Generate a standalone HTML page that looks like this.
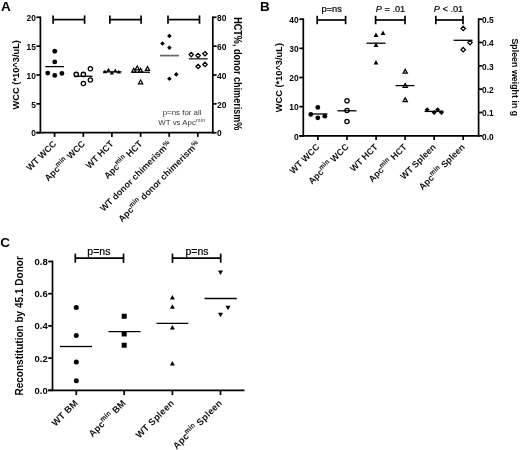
<!DOCTYPE html>
<html><head><meta charset="utf-8"><title>Figure</title>
<style>
html,body{margin:0;padding:0;background:#fff;}
body{width:520px;height:450px;overflow:hidden;}
svg{display:block;font-family:"Liberation Sans",sans-serif;}
</style></head><body>
<svg width="520" height="450" viewBox="0 0 520 450">
<rect width="520" height="450" fill="#fff"/>
<text x="1.00" y="10.60" font-size="13.5" font-weight="bold" font-style="normal" text-anchor="start" fill="#000">A</text>
<line x1="40.40" y1="16.45" x2="40.40" y2="133.55" stroke="#000" stroke-width="1.7" stroke-linecap="butt"/>
<line x1="36.40" y1="132.70" x2="213.65" y2="132.70" stroke="#000" stroke-width="1.7" stroke-linecap="butt"/>
<line x1="212.80" y1="16.45" x2="212.80" y2="133.55" stroke="#000" stroke-width="1.7" stroke-linecap="butt"/>
<line x1="36.40" y1="132.70" x2="40.40" y2="132.70" stroke="#000" stroke-width="1.7" stroke-linecap="butt"/>
<text x="35.80" y="136.40" font-size="8.4" font-weight="bold" font-style="normal" text-anchor="end" fill="#000">0</text>
<line x1="36.40" y1="103.85" x2="40.40" y2="103.85" stroke="#000" stroke-width="1.7" stroke-linecap="butt"/>
<text x="35.80" y="107.55" font-size="8.4" font-weight="bold" font-style="normal" text-anchor="end" fill="#000">5</text>
<line x1="36.40" y1="75.00" x2="40.40" y2="75.00" stroke="#000" stroke-width="1.7" stroke-linecap="butt"/>
<text x="35.80" y="78.70" font-size="8.4" font-weight="bold" font-style="normal" text-anchor="end" fill="#000">10</text>
<line x1="36.40" y1="46.15" x2="40.40" y2="46.15" stroke="#000" stroke-width="1.7" stroke-linecap="butt"/>
<text x="35.80" y="49.85" font-size="8.4" font-weight="bold" font-style="normal" text-anchor="end" fill="#000">15</text>
<line x1="36.40" y1="17.30" x2="40.40" y2="17.30" stroke="#000" stroke-width="1.7" stroke-linecap="butt"/>
<text x="35.80" y="21.00" font-size="8.4" font-weight="bold" font-style="normal" text-anchor="end" fill="#000">20</text>
<line x1="212.80" y1="132.70" x2="216.60" y2="132.70" stroke="#000" stroke-width="1.7" stroke-linecap="butt"/>
<text x="217.00" y="136.40" font-size="8.4" font-weight="bold" font-style="normal" text-anchor="start" fill="#000">0</text>
<line x1="212.80" y1="103.85" x2="216.60" y2="103.85" stroke="#000" stroke-width="1.7" stroke-linecap="butt"/>
<text x="217.00" y="107.55" font-size="8.4" font-weight="bold" font-style="normal" text-anchor="start" fill="#000">20</text>
<line x1="212.80" y1="75.00" x2="216.60" y2="75.00" stroke="#000" stroke-width="1.7" stroke-linecap="butt"/>
<text x="217.00" y="78.70" font-size="8.4" font-weight="bold" font-style="normal" text-anchor="start" fill="#000">40</text>
<line x1="212.80" y1="46.15" x2="216.60" y2="46.15" stroke="#000" stroke-width="1.7" stroke-linecap="butt"/>
<text x="217.00" y="49.85" font-size="8.4" font-weight="bold" font-style="normal" text-anchor="start" fill="#000">60</text>
<line x1="212.80" y1="17.30" x2="216.60" y2="17.30" stroke="#000" stroke-width="1.7" stroke-linecap="butt"/>
<text x="217.00" y="21.00" font-size="8.4" font-weight="bold" font-style="normal" text-anchor="start" fill="#000">80</text>
<line x1="54.60" y1="132.70" x2="54.60" y2="136.90" stroke="#000" stroke-width="1.7" stroke-linecap="butt"/>
<text x="56.90" y="144.40" font-size="9.0" font-weight="bold" font-style="normal" text-anchor="end" fill="#111" transform="rotate(-45 56.90 144.40)">WT WCC</text>
<line x1="83.30" y1="132.70" x2="83.30" y2="136.90" stroke="#000" stroke-width="1.7" stroke-linecap="butt"/>
<text x="85.60" y="144.40" font-size="9.0" font-weight="bold" font-style="normal" text-anchor="end" fill="#111" transform="rotate(-45 85.60 144.40)">Apc<tspan font-size="73%" font-weight="normal" stroke="#111" stroke-width="0.25" letter-spacing="0.4" dy="-3.6">min</tspan><tspan dy="3.6"> WCC</tspan></text>
<line x1="111.90" y1="132.70" x2="111.90" y2="136.90" stroke="#000" stroke-width="1.7" stroke-linecap="butt"/>
<text x="114.20" y="144.40" font-size="9.0" font-weight="bold" font-style="normal" text-anchor="end" fill="#111" transform="rotate(-45 114.20 144.40)">WT HCT</text>
<line x1="140.60" y1="132.70" x2="140.60" y2="136.90" stroke="#000" stroke-width="1.7" stroke-linecap="butt"/>
<text x="142.90" y="144.40" font-size="9.0" font-weight="bold" font-style="normal" text-anchor="end" fill="#111" transform="rotate(-45 142.90 144.40)">Apc<tspan font-size="73%" font-weight="normal" stroke="#111" stroke-width="0.25" letter-spacing="0.4" dy="-3.6">min</tspan><tspan dy="3.6"> HCT</tspan></text>
<line x1="169.20" y1="132.70" x2="169.20" y2="136.90" stroke="#000" stroke-width="1.7" stroke-linecap="butt"/>
<text x="171.50" y="144.40" font-size="9.0" font-weight="bold" font-style="normal" text-anchor="end" fill="#111" transform="rotate(-45 171.50 144.40)">WT donor chimerism<tspan font-size="78%" dy="-2.3">%</tspan></text>
<line x1="197.80" y1="132.70" x2="197.80" y2="136.90" stroke="#000" stroke-width="1.7" stroke-linecap="butt"/>
<text x="200.10" y="144.40" font-size="9.0" font-weight="bold" font-style="normal" text-anchor="end" fill="#111" transform="rotate(-45 200.10 144.40)">Apc<tspan font-size="73%" font-weight="normal" stroke="#111" stroke-width="0.25" letter-spacing="0.4" dy="-3.6">min</tspan><tspan dy="3.6"> donor chimerism</tspan><tspan font-size="78%" dy="-2.3">%</tspan></text>
<text x="19.40" y="109.40" font-size="9.3" font-weight="bold" font-style="normal" text-anchor="start" fill="#000" transform="rotate(-90 19.40 109.40)" textLength="69.3" lengthAdjust="spacingAndGlyphs">WCC (*10^3/uL)</text>
<text x="234.40" y="17.30" font-size="10" font-weight="bold" font-style="normal" text-anchor="start" fill="#000" transform="rotate(90 234.40 17.30)" textLength="113" lengthAdjust="spacingAndGlyphs">HCT%, donor chimerism%</text>
<line x1="53.10" y1="19.60" x2="84.60" y2="19.60" stroke="#000" stroke-width="1.7" stroke-linecap="butt"/>
<line x1="53.10" y1="15.40" x2="53.10" y2="23.80" stroke="#000" stroke-width="1.7" stroke-linecap="butt"/>
<line x1="84.60" y1="15.40" x2="84.60" y2="23.80" stroke="#000" stroke-width="1.7" stroke-linecap="butt"/>
<line x1="109.90" y1="19.60" x2="141.10" y2="19.60" stroke="#000" stroke-width="1.7" stroke-linecap="butt"/>
<line x1="109.90" y1="15.40" x2="109.90" y2="23.80" stroke="#000" stroke-width="1.7" stroke-linecap="butt"/>
<line x1="141.10" y1="15.40" x2="141.10" y2="23.80" stroke="#000" stroke-width="1.7" stroke-linecap="butt"/>
<line x1="168.00" y1="19.60" x2="199.50" y2="19.60" stroke="#000" stroke-width="1.7" stroke-linecap="butt"/>
<line x1="168.00" y1="15.40" x2="168.00" y2="23.80" stroke="#000" stroke-width="1.7" stroke-linecap="butt"/>
<line x1="199.50" y1="15.40" x2="199.50" y2="23.80" stroke="#000" stroke-width="1.7" stroke-linecap="butt"/>
<circle cx="54.75" cy="51.25" r="2.4" fill="#000"/>
<circle cx="54.75" cy="61.90" r="2.4" fill="#000"/>
<circle cx="47.75" cy="73.10" r="2.4" fill="#000"/>
<circle cx="54.75" cy="75.40" r="2.4" fill="#000"/>
<circle cx="61.90" cy="73.40" r="2.4" fill="#000"/>
<line x1="45.25" y1="66.60" x2="64.00" y2="66.60" stroke="#000" stroke-width="1.3" stroke-linecap="butt"/>
<line x1="74.00" y1="76.25" x2="92.50" y2="76.25" stroke="#000" stroke-width="1.3" stroke-linecap="butt"/>
<circle cx="76.25" cy="74.40" r="2.15" fill="none" stroke="#000" stroke-width="1.3"/>
<circle cx="83.40" cy="74.40" r="2.15" fill="none" stroke="#000" stroke-width="1.3"/>
<circle cx="90.40" cy="68.75" r="2.15" fill="none" stroke="#000" stroke-width="1.3"/>
<circle cx="90.40" cy="80.00" r="2.15" fill="none" stroke="#000" stroke-width="1.3"/>
<circle cx="83.40" cy="83.50" r="2.15" fill="none" stroke="#000" stroke-width="1.3"/>
<line x1="103.00" y1="71.90" x2="121.50" y2="71.90" stroke="#000" stroke-width="1.3" stroke-linecap="butt"/>
<polygon points="105.00,69.50 102.90,73.28 107.10,73.28" fill="#000"/>
<polygon points="108.50,67.65 106.40,71.43 110.60,71.43" fill="#000"/>
<polygon points="111.90,70.65 109.80,74.43 114.00,74.43" fill="#000"/>
<polygon points="115.25,68.50 113.15,72.28 117.35,72.28" fill="#000"/>
<polygon points="118.75,69.80 116.65,73.58 120.85,73.58" fill="#000"/>
<line x1="131.90" y1="72.25" x2="150.00" y2="72.25" stroke="#000" stroke-width="1.3" stroke-linecap="butt"/>
<polygon points="133.75,68.30 131.65,72.08 135.85,72.08" fill="none" stroke="#000" stroke-width="1.25" stroke-linejoin="miter"/>
<polygon points="137.25,66.00 135.15,69.78 139.35,69.78" fill="none" stroke="#000" stroke-width="1.25" stroke-linejoin="miter"/>
<polygon points="140.60,68.30 138.50,72.08 142.70,72.08" fill="none" stroke="#000" stroke-width="1.25" stroke-linejoin="miter"/>
<polygon points="147.50,66.65 145.40,70.43 149.60,70.43" fill="none" stroke="#000" stroke-width="1.25" stroke-linejoin="miter"/>
<polygon points="140.60,80.00 138.50,83.78 142.70,83.78" fill="none" stroke="#000" stroke-width="1.25" stroke-linejoin="miter"/>
<line x1="160.00" y1="55.60" x2="179.00" y2="55.60" stroke="#666" stroke-width="1.7" stroke-linecap="butt"/>
<polygon points="169.40,33.60 171.70,35.90 169.40,38.20 167.10,35.90" fill="#000"/>
<polygon points="162.50,41.20 164.80,43.50 162.50,45.80 160.20,43.50" fill="#000"/>
<polygon points="169.40,45.45 171.70,47.75 169.40,50.05 167.10,47.75" fill="#000"/>
<polygon points="176.25,72.10 178.55,74.40 176.25,76.70 173.95,74.40" fill="#000"/>
<polygon points="169.40,76.45 171.70,78.75 169.40,81.05 167.10,78.75" fill="#000"/>
<line x1="188.75" y1="58.75" x2="207.75" y2="58.75" stroke="#444" stroke-width="1.6" stroke-linecap="butt"/>
<polygon points="191.25,52.40 193.45,54.60 191.25,56.80 189.05,54.60" fill="none" stroke="#000" stroke-width="1.25" stroke-linejoin="miter"/>
<polygon points="198.10,53.40 200.30,55.60 198.10,57.80 195.90,55.60" fill="none" stroke="#000" stroke-width="1.25" stroke-linejoin="miter"/>
<polygon points="205.00,51.55 207.20,53.75 205.00,55.95 202.80,53.75" fill="none" stroke="#000" stroke-width="1.25" stroke-linejoin="miter"/>
<polygon points="198.10,64.30 200.30,66.50 198.10,68.70 195.90,66.50" fill="none" stroke="#000" stroke-width="1.25" stroke-linejoin="miter"/>
<polygon points="205.00,62.20 207.20,64.40 205.00,66.60 202.80,64.40" fill="none" stroke="#000" stroke-width="1.25" stroke-linejoin="miter"/>
<text x="182.10" y="114.80" font-size="7.9" font-weight="normal" font-style="normal" text-anchor="middle" fill="#383838">p=ns for all</text>
<text x="181.90" y="124.90" font-size="7.9" font-weight="normal" font-style="normal" text-anchor="middle" fill="#383838">WT vs Apc<tspan font-size="68%" letter-spacing="0.3" dy="-3">min</tspan></text>
<text x="260.00" y="10.60" font-size="13.5" font-weight="bold" font-style="normal" text-anchor="start" fill="#000">B</text>
<line x1="303.30" y1="18.35" x2="303.30" y2="136.65" stroke="#000" stroke-width="1.7" stroke-linecap="butt"/>
<line x1="299.30" y1="135.80" x2="479.45" y2="135.80" stroke="#000" stroke-width="1.7" stroke-linecap="butt"/>
<line x1="478.60" y1="18.35" x2="478.60" y2="136.65" stroke="#000" stroke-width="1.7" stroke-linecap="butt"/>
<line x1="299.30" y1="135.80" x2="303.30" y2="135.80" stroke="#000" stroke-width="1.7" stroke-linecap="butt"/>
<text x="298.70" y="139.50" font-size="8.4" font-weight="bold" font-style="normal" text-anchor="end" fill="#000">0</text>
<line x1="299.30" y1="106.65" x2="303.30" y2="106.65" stroke="#000" stroke-width="1.7" stroke-linecap="butt"/>
<text x="298.70" y="110.35" font-size="8.4" font-weight="bold" font-style="normal" text-anchor="end" fill="#000">10</text>
<line x1="299.30" y1="77.50" x2="303.30" y2="77.50" stroke="#000" stroke-width="1.7" stroke-linecap="butt"/>
<text x="298.70" y="81.20" font-size="8.4" font-weight="bold" font-style="normal" text-anchor="end" fill="#000">20</text>
<line x1="299.30" y1="48.35" x2="303.30" y2="48.35" stroke="#000" stroke-width="1.7" stroke-linecap="butt"/>
<text x="298.70" y="52.05" font-size="8.4" font-weight="bold" font-style="normal" text-anchor="end" fill="#000">30</text>
<line x1="299.30" y1="19.20" x2="303.30" y2="19.20" stroke="#000" stroke-width="1.7" stroke-linecap="butt"/>
<text x="298.70" y="22.90" font-size="8.4" font-weight="bold" font-style="normal" text-anchor="end" fill="#000">40</text>
<line x1="478.60" y1="135.80" x2="482.40" y2="135.80" stroke="#000" stroke-width="1.7" stroke-linecap="butt"/>
<text x="482.10" y="139.50" font-size="8.4" font-weight="bold" font-style="normal" text-anchor="start" fill="#000">0.0</text>
<line x1="478.60" y1="112.48" x2="482.40" y2="112.48" stroke="#000" stroke-width="1.7" stroke-linecap="butt"/>
<text x="482.10" y="116.18" font-size="8.4" font-weight="bold" font-style="normal" text-anchor="start" fill="#000">0.1</text>
<line x1="478.60" y1="89.16" x2="482.40" y2="89.16" stroke="#000" stroke-width="1.7" stroke-linecap="butt"/>
<text x="482.10" y="92.86" font-size="8.4" font-weight="bold" font-style="normal" text-anchor="start" fill="#000">0.2</text>
<line x1="478.60" y1="65.84" x2="482.40" y2="65.84" stroke="#000" stroke-width="1.7" stroke-linecap="butt"/>
<text x="482.10" y="69.54" font-size="8.4" font-weight="bold" font-style="normal" text-anchor="start" fill="#000">0.3</text>
<line x1="478.60" y1="42.52" x2="482.40" y2="42.52" stroke="#000" stroke-width="1.7" stroke-linecap="butt"/>
<text x="482.10" y="46.22" font-size="8.4" font-weight="bold" font-style="normal" text-anchor="start" fill="#000">0.4</text>
<line x1="478.60" y1="19.20" x2="482.40" y2="19.20" stroke="#000" stroke-width="1.7" stroke-linecap="butt"/>
<text x="482.10" y="22.90" font-size="8.4" font-weight="bold" font-style="normal" text-anchor="start" fill="#000">0.5</text>
<line x1="317.90" y1="135.80" x2="317.90" y2="140.00" stroke="#000" stroke-width="1.7" stroke-linecap="butt"/>
<text x="320.20" y="147.50" font-size="9.0" font-weight="bold" font-style="normal" text-anchor="end" fill="#111" transform="rotate(-45 320.20 147.50)">WT WCC</text>
<line x1="347.00" y1="135.80" x2="347.00" y2="140.00" stroke="#000" stroke-width="1.7" stroke-linecap="butt"/>
<text x="349.30" y="147.50" font-size="9.0" font-weight="bold" font-style="normal" text-anchor="end" fill="#111" transform="rotate(-45 349.30 147.50)">Apc<tspan font-size="73%" font-weight="normal" stroke="#111" stroke-width="0.25" letter-spacing="0.4" dy="-3.6">min</tspan><tspan dy="3.6"> WCC</tspan></text>
<line x1="376.10" y1="135.80" x2="376.10" y2="140.00" stroke="#000" stroke-width="1.7" stroke-linecap="butt"/>
<text x="378.40" y="147.50" font-size="9.0" font-weight="bold" font-style="normal" text-anchor="end" fill="#111" transform="rotate(-45 378.40 147.50)">WT HCT</text>
<line x1="405.10" y1="135.80" x2="405.10" y2="140.00" stroke="#000" stroke-width="1.7" stroke-linecap="butt"/>
<text x="407.40" y="147.50" font-size="9.0" font-weight="bold" font-style="normal" text-anchor="end" fill="#111" transform="rotate(-45 407.40 147.50)">Apc<tspan font-size="73%" font-weight="normal" stroke="#111" stroke-width="0.25" letter-spacing="0.4" dy="-3.6">min</tspan><tspan dy="3.6"> HCT</tspan></text>
<line x1="434.20" y1="135.80" x2="434.20" y2="140.00" stroke="#000" stroke-width="1.7" stroke-linecap="butt"/>
<text x="436.50" y="147.50" font-size="9.0" font-weight="bold" font-style="normal" text-anchor="end" fill="#111" transform="rotate(-45 436.50 147.50)">WT Spleen</text>
<line x1="463.20" y1="135.80" x2="463.20" y2="140.00" stroke="#000" stroke-width="1.7" stroke-linecap="butt"/>
<text x="465.50" y="147.50" font-size="9.0" font-weight="bold" font-style="normal" text-anchor="end" fill="#111" transform="rotate(-45 465.50 147.50)">Apc<tspan font-size="73%" font-weight="normal" stroke="#111" stroke-width="0.25" letter-spacing="0.4" dy="-3.6">min</tspan><tspan dy="3.6"> Spleen</tspan></text>
<text x="281.80" y="112.30" font-size="9.3" font-weight="bold" font-style="normal" text-anchor="start" fill="#000" transform="rotate(-90 281.80 112.30)" textLength="69.3" lengthAdjust="spacingAndGlyphs">WCC (*10^3/uL)</text>
<text x="511.50" y="38.40" font-size="9.8" font-weight="bold" font-style="normal" text-anchor="start" fill="#000" transform="rotate(90 511.50 38.40)" textLength="77.8" lengthAdjust="spacingAndGlyphs">Spleen weight in g</text>
<line x1="317.20" y1="20.00" x2="345.60" y2="20.00" stroke="#000" stroke-width="1.7" stroke-linecap="butt"/>
<line x1="317.20" y1="15.80" x2="317.20" y2="24.20" stroke="#000" stroke-width="1.7" stroke-linecap="butt"/>
<line x1="345.60" y1="15.80" x2="345.60" y2="24.20" stroke="#000" stroke-width="1.7" stroke-linecap="butt"/>
<line x1="375.60" y1="20.00" x2="405.00" y2="20.00" stroke="#000" stroke-width="1.7" stroke-linecap="butt"/>
<line x1="375.60" y1="15.80" x2="375.60" y2="24.20" stroke="#000" stroke-width="1.7" stroke-linecap="butt"/>
<line x1="405.00" y1="15.80" x2="405.00" y2="24.20" stroke="#000" stroke-width="1.7" stroke-linecap="butt"/>
<line x1="435.80" y1="20.00" x2="463.00" y2="20.00" stroke="#000" stroke-width="1.7" stroke-linecap="butt"/>
<line x1="435.80" y1="15.80" x2="435.80" y2="24.20" stroke="#000" stroke-width="1.7" stroke-linecap="butt"/>
<line x1="463.00" y1="15.80" x2="463.00" y2="24.20" stroke="#000" stroke-width="1.7" stroke-linecap="butt"/>
<text x="331.60" y="12.20" font-size="9.3" font-weight="normal" font-style="normal" text-anchor="middle" fill="#000" stroke="#000" stroke-width="0.2">p=ns</text>
<text x="390.50" y="12.20" font-size="9.2" font-weight="normal" font-style="normal" text-anchor="middle" fill="#000" stroke="#000" stroke-width="0.2"><tspan font-style="italic">P</tspan> = .01</text>
<text x="448.50" y="12.20" font-size="9.2" font-weight="normal" font-style="normal" text-anchor="middle" fill="#000" stroke="#000" stroke-width="0.2"><tspan font-style="italic">P</tspan> &lt; .01</text>
<circle cx="317.80" cy="107.40" r="2.4" fill="#000"/>
<circle cx="310.80" cy="114.40" r="2.4" fill="#000"/>
<circle cx="317.80" cy="117.80" r="2.4" fill="#000"/>
<circle cx="324.80" cy="116.20" r="2.4" fill="#000"/>
<line x1="309.00" y1="114.00" x2="327.50" y2="114.00" stroke="#000" stroke-width="1.3" stroke-linecap="butt"/>
<circle cx="347.00" cy="100.80" r="2.15" fill="none" stroke="#000" stroke-width="1.3"/>
<circle cx="347.00" cy="110.50" r="2.15" fill="none" stroke="#000" stroke-width="1.3"/>
<circle cx="347.00" cy="121.50" r="2.15" fill="none" stroke="#000" stroke-width="1.3"/>
<line x1="337.50" y1="110.80" x2="356.50" y2="110.80" stroke="#000" stroke-width="1.3" stroke-linecap="butt"/>
<polygon points="376.00,32.60 373.60,36.92 378.40,36.92" fill="#000"/>
<polygon points="383.00,30.60 380.60,34.92 385.40,34.92" fill="#000"/>
<polygon points="376.00,42.60 373.60,46.92 378.40,46.92" fill="#000"/>
<polygon points="376.00,60.10 373.60,64.42 378.40,64.42" fill="#000"/>
<line x1="366.50" y1="43.20" x2="385.50" y2="43.20" stroke="#000" stroke-width="1.3" stroke-linecap="butt"/>
<polygon points="405.20,69.40 403.10,73.18 407.30,73.18" fill="none" stroke="#000" stroke-width="1.25" stroke-linejoin="miter"/>
<polygon points="405.20,83.60 403.10,87.38 407.30,87.38" fill="none" stroke="#000" stroke-width="1.25" stroke-linejoin="miter"/>
<polygon points="405.20,97.90 403.10,101.68 407.30,101.68" fill="none" stroke="#000" stroke-width="1.25" stroke-linejoin="miter"/>
<line x1="395.60" y1="85.60" x2="414.40" y2="85.60" stroke="#000" stroke-width="1.3" stroke-linecap="butt"/>
<polygon points="427.20,107.30 429.70,109.80 427.20,112.30 424.70,109.80" fill="#000"/>
<polygon points="434.10,110.00 436.60,112.50 434.10,115.00 431.60,112.50" fill="#000"/>
<polygon points="437.60,107.30 440.10,109.80 437.60,112.30 435.10,109.80" fill="#000"/>
<polygon points="441.40,110.00 443.90,112.50 441.40,115.00 438.90,112.50" fill="#000"/>
<line x1="424.60" y1="111.40" x2="443.50" y2="111.40" stroke="#000" stroke-width="1.3" stroke-linecap="butt"/>
<polygon points="463.20,26.20 465.40,28.40 463.20,30.60 461.00,28.40" fill="none" stroke="#000" stroke-width="1.25" stroke-linejoin="miter"/>
<polygon points="470.00,40.40 472.20,42.60 470.00,44.80 467.80,42.60" fill="none" stroke="#000" stroke-width="1.25" stroke-linejoin="miter"/>
<polygon points="463.20,47.50 465.40,49.70 463.20,51.90 461.00,49.70" fill="none" stroke="#000" stroke-width="1.25" stroke-linejoin="miter"/>
<line x1="453.60" y1="40.30" x2="472.50" y2="40.30" stroke="#000" stroke-width="1.3" stroke-linecap="butt"/>
<text x="0.30" y="247.30" font-size="13.5" font-weight="bold" font-style="normal" text-anchor="start" fill="#000">C</text>
<line x1="52.50" y1="260.65" x2="52.50" y2="391.15" stroke="#000" stroke-width="1.7" stroke-linecap="butt"/>
<line x1="48.20" y1="390.30" x2="244.50" y2="390.30" stroke="#000" stroke-width="1.7" stroke-linecap="butt"/>
<line x1="48.20" y1="390.30" x2="52.50" y2="390.30" stroke="#000" stroke-width="1.7" stroke-linecap="butt"/>
<text x="47.70" y="393.80" font-size="9.5" font-weight="bold" font-style="normal" text-anchor="end" fill="#000">0.0</text>
<line x1="48.20" y1="358.10" x2="52.50" y2="358.10" stroke="#000" stroke-width="1.7" stroke-linecap="butt"/>
<text x="47.70" y="361.60" font-size="9.5" font-weight="bold" font-style="normal" text-anchor="end" fill="#000">0.2</text>
<line x1="48.20" y1="325.90" x2="52.50" y2="325.90" stroke="#000" stroke-width="1.7" stroke-linecap="butt"/>
<text x="47.70" y="329.40" font-size="9.5" font-weight="bold" font-style="normal" text-anchor="end" fill="#000">0.4</text>
<line x1="48.20" y1="293.70" x2="52.50" y2="293.70" stroke="#000" stroke-width="1.7" stroke-linecap="butt"/>
<text x="47.70" y="297.20" font-size="9.5" font-weight="bold" font-style="normal" text-anchor="end" fill="#000">0.6</text>
<line x1="48.20" y1="261.50" x2="52.50" y2="261.50" stroke="#000" stroke-width="1.7" stroke-linecap="butt"/>
<text x="47.70" y="265.00" font-size="9.5" font-weight="bold" font-style="normal" text-anchor="end" fill="#000">0.8</text>
<line x1="76.30" y1="390.30" x2="76.30" y2="395.10" stroke="#000" stroke-width="1.7" stroke-linecap="butt"/>
<text x="78.60" y="403.50" font-size="9.3" font-weight="bold" font-style="normal" text-anchor="end" fill="#111" transform="rotate(-45 78.60 403.50)" letter-spacing="0.25">WT BM</text>
<line x1="124.20" y1="390.30" x2="124.20" y2="395.10" stroke="#000" stroke-width="1.7" stroke-linecap="butt"/>
<text x="126.50" y="403.50" font-size="9.3" font-weight="bold" font-style="normal" text-anchor="end" fill="#111" transform="rotate(-45 126.50 403.50)" letter-spacing="0.25">Apc<tspan font-size="73%" font-weight="normal" stroke="#111" stroke-width="0.25" letter-spacing="0.4" dy="-3.6">min</tspan><tspan dy="3.6"> BM</tspan></text>
<line x1="172.40" y1="390.30" x2="172.40" y2="395.10" stroke="#000" stroke-width="1.7" stroke-linecap="butt"/>
<text x="174.70" y="403.50" font-size="9.3" font-weight="bold" font-style="normal" text-anchor="end" fill="#111" transform="rotate(-45 174.70 403.50)" letter-spacing="0.25">WT Spleen</text>
<line x1="220.50" y1="390.30" x2="220.50" y2="395.10" stroke="#000" stroke-width="1.7" stroke-linecap="butt"/>
<text x="222.80" y="403.50" font-size="9.3" font-weight="bold" font-style="normal" text-anchor="end" fill="#111" transform="rotate(-45 222.80 403.50)" letter-spacing="0.25">Apc<tspan font-size="73%" font-weight="normal" stroke="#111" stroke-width="0.25" letter-spacing="0.4" dy="-3.6">min</tspan><tspan dy="3.6"> Spleen</tspan></text>
<text x="23.30" y="395.60" font-size="10" font-weight="bold" font-style="normal" text-anchor="start" fill="#000" transform="rotate(-90 23.30 395.60)" textLength="139.5" lengthAdjust="spacingAndGlyphs">Reconstitution by 45.1 Donor</text>
<line x1="75.30" y1="258.20" x2="123.50" y2="258.20" stroke="#000" stroke-width="1.7" stroke-linecap="butt"/>
<line x1="75.30" y1="253.60" x2="75.30" y2="262.80" stroke="#000" stroke-width="1.7" stroke-linecap="butt"/>
<line x1="123.50" y1="253.60" x2="123.50" y2="262.80" stroke="#000" stroke-width="1.7" stroke-linecap="butt"/>
<line x1="172.50" y1="258.20" x2="220.70" y2="258.20" stroke="#000" stroke-width="1.7" stroke-linecap="butt"/>
<line x1="172.50" y1="253.60" x2="172.50" y2="262.80" stroke="#000" stroke-width="1.7" stroke-linecap="butt"/>
<line x1="220.70" y1="253.60" x2="220.70" y2="262.80" stroke="#000" stroke-width="1.7" stroke-linecap="butt"/>
<text x="98.90" y="255.30" font-size="10.5" font-weight="normal" font-style="normal" text-anchor="middle" fill="#000" stroke="#000" stroke-width="0.2">p=ns</text>
<text x="197.00" y="255.30" font-size="10.5" font-weight="normal" font-style="normal" text-anchor="middle" fill="#000" stroke="#000" stroke-width="0.2">p=ns</text>
<circle cx="76.30" cy="307.38" r="2.5" fill="#000"/>
<circle cx="76.30" cy="335.56" r="2.5" fill="#000"/>
<circle cx="76.30" cy="362.12" r="2.5" fill="#000"/>
<circle cx="76.30" cy="380.64" r="2.5" fill="#000"/>
<line x1="60.00" y1="346.51" x2="92.00" y2="346.51" stroke="#000" stroke-width="1.3" stroke-linecap="butt"/>
<rect x="121.70" y="313.74" width="5.0" height="5.0" fill="#000"/>
<rect x="121.70" y="331.45" width="5.0" height="5.0" fill="#000"/>
<rect x="121.70" y="342.72" width="5.0" height="5.0" fill="#000"/>
<line x1="108.50" y1="331.54" x2="140.50" y2="331.54" stroke="#000" stroke-width="1.3" stroke-linecap="butt"/>
<polygon points="172.40,295.10 169.90,299.60 174.90,299.60" fill="#000"/>
<polygon points="172.40,304.20 169.90,308.70 174.90,308.70" fill="#000"/>
<polygon points="172.40,325.10 169.90,329.60 174.90,329.60" fill="#000"/>
<polygon points="172.40,361.10 169.90,365.60 174.90,365.60" fill="#000"/>
<line x1="156.50" y1="323.30" x2="188.30" y2="323.30" stroke="#000" stroke-width="1.3" stroke-linecap="butt"/>
<polygon points="220.50,275.10 218.00,270.60 223.00,270.60" fill="#000"/>
<polygon points="228.00,310.30 225.50,305.80 230.50,305.80" fill="#000"/>
<polygon points="220.50,317.30 218.00,312.80 223.00,312.80" fill="#000"/>
<line x1="204.50" y1="298.50" x2="236.80" y2="298.50" stroke="#000" stroke-width="1.3" stroke-linecap="butt"/>
</svg>
</body></html>
